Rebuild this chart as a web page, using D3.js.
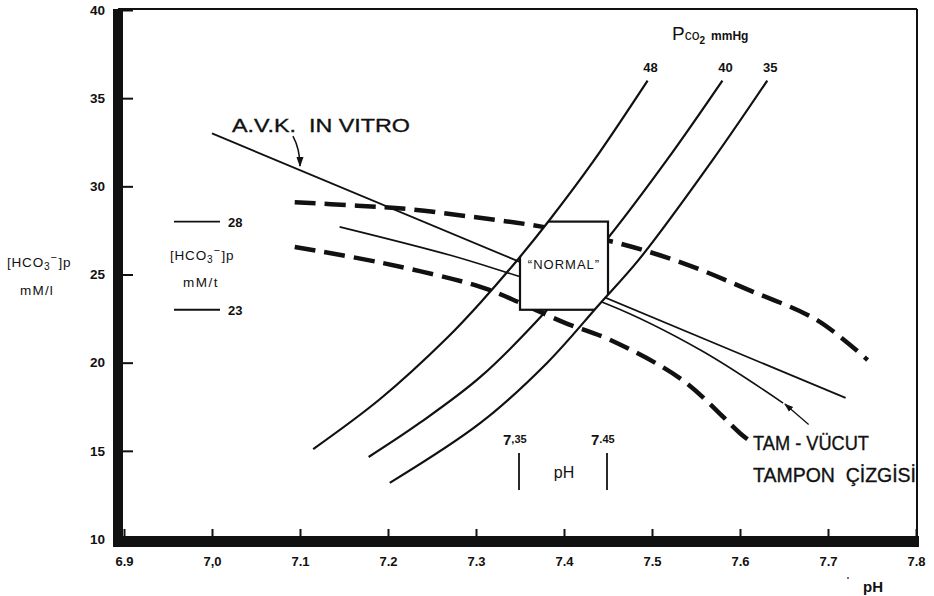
<!DOCTYPE html>
<html><head><meta charset="utf-8">
<script src="https://cdn.jsdelivr.net/npm/d3@7"></script>
<style>
body{margin:0;background:#fff}
svg{display:block}
text{font-family:"Liberation Sans",Arial,sans-serif;fill:#111;white-space:pre}
</style>
</head><body>
<svg id="c" width="934" height="596"></svg>
<script>
// Axes
const xTicks = [6.9, 7.0, 7.1, 7.2, 7.3, 7.4, 7.5, 7.6, 7.7, 7.8];
const xTickLabels = ["6.9", "7,0", "7.1", "7.2", "7.3", "7.4", "7.5", "7.6", "7.7", "7.8"];
const yTicks = [10, 15, 20, 25, 30, 35, 40];
const yTickLabels = ["10", "15", "20", "25", "30", "35", "40"];

// PCO2 isobars (pH, [HCO3-] mM/l)
const isobarLabels = ["48", "40", "35"];
const iso48 = [[7.115,15.1],[7.191,17.94],[7.267,21.4],[7.308,23.57],[7.349,25.94],[7.384,28.12],[7.433,31.4],[7.495,36.0]];
const iso40 = [[7.178,14.65],[7.236,16.58],[7.305,19.19],[7.381,23.0],[7.45,27.07],[7.517,31.5],[7.58,36.0]];
const iso35 = [[7.202,13.18],[7.305,16.58],[7.381,20.0],[7.44,23.3],[7.486,25.9],[7.569,31.5],[7.631,36.0]];

// In vitro buffer line and whole-body buffer line
const avkLine = [[7.0,33.0],[7.72,18.0]];
const wholeBody = [[7.145,27.7],[7.27,26.1],[7.344,24.97],[7.45,23.3],[7.555,20.72],[7.649,17.71]];

// Dashed limit curves
const upperDash = [[7.094,29.1],[7.165,28.9],[7.225,28.7],[7.297,28.26],[7.376,27.7],[7.46,26.8],[7.535,25.65],[7.611,24.1],[7.688,22.4],[7.745,20.15]];
const lowerDash = [[7.094,26.56],[7.194,25.65],[7.305,24.3],[7.35,23.4],[7.399,22.3],[7.452,21.3],[7.535,19.0],[7.6,16.0],[7.614,15.45]];

// Normal range
const normalPH = [7.35, 7.45];
const normalHCO3 = [23, 28];

// Arrows (from, to)
const avkArrow = [[7.092,32.85],[7.1,31.15]];
const wbArrow = [[7.678,16.5],[7.651,17.65]];

const svg = d3.select("#c");
const x = d3.scaleLinear().domain([6.9, 7.8]).range([124, 916]);
const y = d3.scaleLinear().domain([10, 40]).range([539, 10]);

const line = d3.line().x(d => x(d[0])).y(d => y(d[1])).curve(d3.curveCatmullRom.alpha(0.5));

const defs = svg.append("defs");
defs.append("marker").attr("id","ah").attr("viewBox","0 0 10 10").attr("refX",9).attr("refY",5)
  .attr("markerWidth",7).attr("markerHeight",7).attr("orient","auto-start-reverse")
  .append("path").attr("d","M0,1.5 L10,5 L0,8.5 Z").attr("fill","#111");

// Frame
svg.append("line").attr("x1",118).attr("x2",x(7.8)+1).attr("y1",y(40)-1).attr("y2",y(40)-1)
  .attr("stroke","#111").attr("stroke-width",2);
svg.append("line").attr("x1",x(7.8)+1).attr("x2",x(7.8)+1).attr("y1",y(40)-1).attr("y2",y(10))
  .attr("stroke","#111").attr("stroke-width",2);
svg.append("rect").attr("x",113).attr("y",y(40)-1).attr("width",10).attr("height",y(10)-y(40)+9).attr("fill","#111");
svg.append("rect").attr("x",113).attr("y",y(10)-3).attr("width",x(7.8)-113+3).attr("height",11).attr("fill","#111");

// Y axis
const yAxis = svg.append("g").attr("transform","translate(123,0)")
  .call(d3.axisLeft(y).tickValues(yTicks).tickSizeInner(-10).tickSizeOuter(0).tickPadding(18)
    .tickFormat((d,i) => yTickLabels[i]));
yAxis.select(".domain").remove();
yAxis.selectAll("line").attr("stroke","#111").attr("stroke-width",2);
yAxis.selectAll("text").attr("font-size",13.5).attr("font-weight","bold").attr("fill","#111")
  .attr("font-family","'Liberation Sans',Arial,sans-serif");

// X axis
const xAxis = svg.append("g").attr("transform",`translate(0,${y(10)-2})`)
  .call(d3.axisBottom(x).tickValues(xTicks).tickSizeInner(-8).tickSizeOuter(0).tickPadding(20)
    .tickFormat((d,i) => xTickLabels[i]));
xAxis.select(".domain").remove();
xAxis.selectAll("line").attr("stroke","#111").attr("stroke-width",2);
xAxis.selectAll("text").attr("font-size",13).attr("font-weight","bold").attr("fill","#111")
  .attr("font-family","'Liberation Sans',Arial,sans-serif");

// Dashed curves
[upperDash, lowerDash].forEach(d => {
  svg.append("path").attr("d", line(d)).attr("fill","none").attr("stroke","#111")
    .attr("stroke-width",4.5).attr("stroke-dasharray","21,9");
});

// Buffer lines
svg.append("path").attr("d", line(avkLine)).attr("fill","none").attr("stroke","#111").attr("stroke-width",1.8);
svg.append("path").attr("d", line(wholeBody)).attr("fill","none").attr("stroke","#111").attr("stroke-width",1.6);

// Isobar 40 lies under the normal box
svg.append("path").attr("d", line(iso40)).attr("fill","none").attr("stroke","#111").attr("stroke-width",2.2);

// Normal box, bounded by the 48 and 35 isobars
const band = line(iso48) + "L" + line(iso35.slice().reverse()).slice(1) + "Z";
defs.append("clipPath").attr("id","band").append("path").attr("d", band);
svg.append("rect")
  .attr("x", x(normalPH[0])).attr("y", y(normalHCO3[1]))
  .attr("width", x(normalPH[1]) - x(normalPH[0])).attr("height", y(normalHCO3[0]) - y(normalHCO3[1]))
  .attr("fill","#fff").attr("stroke","#111").attr("stroke-width",2.2)
  .attr("clip-path","url(#band)");
svg.append("text").attr("x", (x(normalPH[0])+x(normalPH[1]))/2).attr("y", y(25.3))
  .attr("text-anchor","middle").attr("font-size",13).attr("letter-spacing",1).text("\u201CNORMAL\u201D");

[iso48, iso35].forEach(d => {
  svg.append("path").attr("d", line(d)).attr("fill","none").attr("stroke","#111").attr("stroke-width",2.2);
});

// Isobar labels
[iso48, iso40, iso35].forEach((d,i) => {
  const last = d[d.length-1];
  svg.append("text").attr("x", x(last[0])+3).attr("y", 72).attr("text-anchor","middle")
    .attr("font-size",13).attr("font-weight","bold").text(isobarLabels[i]);
});
const pco2 = svg.append("text").attr("x",672).attr("y",40);
pco2.append("tspan").attr("font-size",19).text("P");
pco2.append("tspan").attr("font-size",14).text("co");
pco2.append("tspan").attr("font-size",10).attr("dy",4).attr("font-weight","bold").text("2");
pco2.append("tspan").attr("font-size",12).attr("dy",-4).attr("dx",6).attr("font-weight","bold").text("mmHg");

// Arrows
svg.append("path")
  .attr("d", `M${x(avkArrow[0][0])},${y(avkArrow[0][1])} Q${x(avkArrow[0][0])+7},${(y(avkArrow[0][1])+y(avkArrow[1][1]))/2-2} ${x(avkArrow[1][0])},${y(avkArrow[1][1])}`)
  .attr("fill","none").attr("stroke","#111").attr("stroke-width",1.5).attr("marker-end","url(#ah)");
svg.append("line").attr("x1", x(wbArrow[0][0])).attr("y1", y(wbArrow[0][1]))
  .attr("x2", x(wbArrow[1][0])).attr("y2", y(wbArrow[1][1]))
  .attr("stroke","#111").attr("stroke-width",1.3).attr("marker-end","url(#ah)");

// Annotations (hand-lettered look: regular weight with a light outline)
function label(xp, yp, size, len, txt) {
  svg.append("text").attr("x",xp).attr("y",yp).attr("font-size",size)
    .attr("stroke","#111").attr("stroke-width",0.35)
    .attr("textLength",len).attr("lengthAdjust","spacingAndGlyphs").text(txt);
}
label(232, 132, 19, 178, "A.V.K.  IN VITRO");
label(753, 450, 20, 116, "TAM - VÜCUT");
label(753, 482, 20, 163, "TAMPON  ÇİZGİSİ");

// Normal pH limits
[[normalPH[0],"7",",35"],[normalPH[1],"7",".45"]].forEach(([v,a,b]) => {
  const t = svg.append("text").attr("x", x(v)-17).attr("y", 445);
  t.append("tspan").attr("font-size",15).attr("font-weight","bold").text(a);
  t.append("tspan").attr("font-size",11).attr("font-weight","bold").attr("dy",-2).text(b);
  svg.append("line").attr("x1", x(v)-1).attr("x2", x(v)-1).attr("y1", 453).attr("y2", 490)
    .attr("stroke","#111").attr("stroke-width",1.8);
});
svg.append("text").attr("x", (x(normalPH[0])+x(normalPH[1]))/2).attr("y",478)
  .attr("text-anchor","middle").attr("font-size",16).text("pH");

// Inset key for the normal [HCO3-] limits
[[normalHCO3[1],"28"],[normalHCO3[0],"23"]].forEach(([v,l]) => {
  svg.append("line").attr("x1",174).attr("x2",220).attr("y1",y(v)).attr("y2",y(v))
    .attr("stroke","#111").attr("stroke-width",1.8);
  svg.append("text").attr("x",228).attr("y",y(v)+5).attr("font-size",13).attr("font-weight","bold").text(l);
});
function hco3Label(xp, yp, size) {
  const t = svg.append("text").attr("x",xp).attr("y",yp).attr("font-size",size).attr("letter-spacing",0.8);
  t.append("tspan").text("[HCO");
  t.append("tspan").attr("font-size",size*0.75).attr("dy",3).text("3");
  t.append("tspan").attr("font-size",size*0.8).attr("dy",-9).text("\u2212");
  t.append("tspan").attr("dy",6).attr("dx",1).text("]p");
}
hco3Label(170, 260, 13.5);
svg.append("text").attr("x",183).attr("y",287).attr("font-size",13.5).attr("letter-spacing",1.5).text("mM/t");

// Y axis title
hco3Label(7, 267, 13.5);
svg.append("text").attr("x",20).attr("y",295).attr("font-size",13.5).attr("letter-spacing",1.2).text("mM/l");

// X axis title
svg.append("text").attr("x",873).attr("y",592).attr("text-anchor","middle").attr("font-size",15).attr("font-weight","bold").text("pH");
svg.append("circle").attr("cx",848).attr("cy",578).attr("r",1).attr("fill","#444");
</script>
</body></html>
